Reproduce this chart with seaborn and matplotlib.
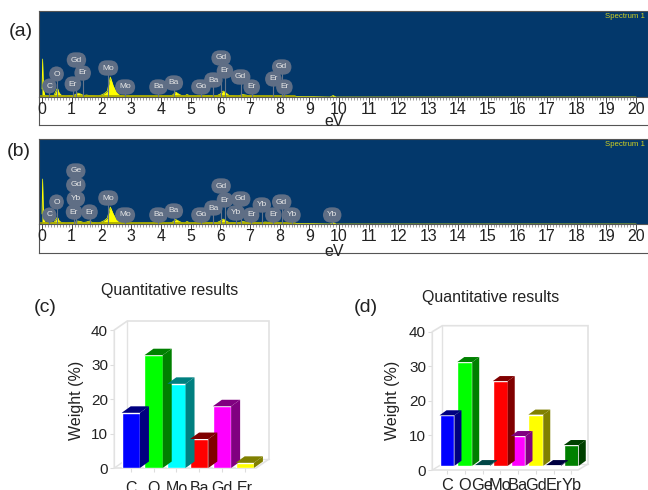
import numpy as np
import pandas as pd
import matplotlib
matplotlib.use('Agg')
import matplotlib.pyplot as plt
from matplotlib.patches import Polygon
import seaborn as sns

W, H = 648, 490

# spectrum (a)
energy_a = [0.0, 0.01, 0.02, 0.04, 0.06, 0.1, 0.2, 0.4, 0.47, 0.52, 0.58, 0.66, 0.8, 1.0, 1.1, 1.2, 1.3, 1.4, 1.5, 1.6, 1.9,
            2.0, 2.1, 2.2, 2.3, 2.4, 2.5, 2.6, 2.75, 3.0, 4.3, 4.4, 4.5, 4.6, 4.7, 4.8, 4.88, 5.0, 5.9, 6.0, 6.1, 6.2, 6.3,
            6.6, 6.75, 6.95, 7.1, 7.2, 8.0, 9.7, 9.8, 9.9, 20.0]
counts_a = [8, 20, 38, 16, 6, 1.5, 1, 1.5, 6, 9, 4, 1.5, 1, 1.5, 2, 4, 3, 1.5, 2, 1.5, 1,
            2, 3.5, 6, 20, 11, 5, 2, 1, 1, 1, 2, 5, 3, 1.5, 1, 2.5, 1, 1.5, 3, 6, 4, 1.5,
            1, 2.5, 1.5, 1.5, 1, 1, 0, 1.5, 0, 0]
names_a = ['C', 'O', 'Gd', 'Er', 'Er', 'Mo', 'Mo', 'Ba', 'Ba', 'Gd', 'Ba', 'Gd', 'Er', 'Gd', 'Er', 'Er', 'Gd', 'Er']
lines_a = [0.25, 0.49, 1.16, 1.37, 1.04, 2.23, 2.8, 3.92, 4.44, 5.35, 5.77, 6.03, 6.16, 6.69, 7.06, 7.79, 8.07, 8.16]
tops_a = [11, 23, 37, 24, 13, 29, 10, 10, 14, 10, 17, 39, 26, 20, 10, 18, 30, 10]

# spectrum (b)
energy_b = [0.0, 0.01, 0.02, 0.04, 0.06, 0.1, 0.2, 0.4, 0.47, 0.52, 0.58, 0.66, 0.8, 1.1, 1.2, 1.3, 1.4, 1.5, 1.6, 1.7, 1.9,
            2.0, 2.1, 2.2, 2.3, 2.4, 2.5, 2.6, 2.75, 3.0, 4.3, 4.4, 4.5, 4.6, 4.7, 4.8, 4.88, 5.0, 5.9, 6.0, 6.1, 6.2, 6.3,
            6.6, 6.75, 6.95, 7.4, 7.5, 8.0, 9.7, 9.8, 9.9, 20.0]
counts_b = [10, 25, 45, 18, 7, 2, 1, 1.5, 5, 7, 3, 1.5, 1, 1.5, 3, 2.5, 1.5, 2, 3, 1.5, 1,
            2, 3.5, 6, 17, 10, 4.5, 2, 1, 1, 1, 2, 4.5, 3, 1.5, 1, 2.5, 1, 1.5, 3, 5, 3, 1.5,
            1, 2.5, 1.5, 1, 2, 1, 0, 1.5, 0, 0]
names_b = ['C', 'O', 'Ge', 'Gd', 'Yb', 'Er', 'Er', 'Mo', 'Mo', 'Ba', 'Ba', 'Gd', 'Ba', 'Gd', 'Er', 'Yb', 'Gd', 'Er',
           'Yb', 'Er', 'Gd', 'Yb', 'Yb']
lines_b = [0.25, 0.49, 1.14, 1.14, 1.14, 1.08, 1.6, 2.23, 2.8, 3.92, 4.44, 5.35, 5.77, 6.03, 6.16, 6.53, 6.69, 7.04,
           7.4, 7.79, 8.07, 8.4, 9.77]
tops_b = [9, 22, 53, 39, 25, 12, 12, 26, 9, 9, 13, 9, 16, 38, 24, 11, 25, 9, 19, 9, 22, 9, 9]

# weight percent bars
elements_c = ['C', 'O', 'Mo', 'Ba', 'Gd', 'Er']
weight_c = [16, 32.7, 24.4, 8.4, 17.9, 1.5]
colors_c = ['#0000ff', '#00ff00', '#00ffff', '#ff0000', '#ff00ff', '#ffff00']

elements_d = ['C', 'O', 'Ge', 'Mo', 'Ba', 'Gd', 'Er', 'Yb']
weight_d = [14.6, 30, 0.2, 24.5, 8.6, 14.8, 0.2, 6]
colors_d = ['#0000ff', '#00ff00', '#008b8b', '#ff0000', '#ff00ff', '#ffff00', '#000080', '#008000']

sns.set_theme(style='white')
plt.rcParams['font.family'] = ['Liberation Sans', 'DejaVu Sans']
plt.rcParams['text.color'] = '#222222'


def box(x0, x1, ytop, ybot):
    return [x0 / W, 1 - ybot / H, (x1 - x0) / W, (ybot - ytop) / H]


def label(fig, x, y, s, **kw):
    fig.text(x / W, 1 - y / H, s, ha=kw.pop('ha', 'center'), va='center', **kw)


def spectrum(fig, ytop, ybase, ybot, energy, counts, names, lines, tops):
    strip = fig.add_axes(box(39, 648, ybase, ybot))
    strip.set_xticks([])
    strip.set_yticks([])
    strip.spines[['top', 'right']].set_visible(False)
    strip.spines[['left', 'bottom']].set_color('#555555')
    strip.spines[['left', 'bottom']].set_linewidth(0.8)

    ax = fig.add_axes(box(39, 648, ytop, ybase))
    ax.set_facecolor('#03386b')
    sns.lineplot(x=energy, y=counts, color='#ffff00', lw=0.5, ax=ax, errorbar=None, sort=False)
    ax.fill_between(energy, counts, color='#ffff00', lw=0)
    ax.axhline(0.6, xmin=0, xmax=0.42, color='#a8a800', lw=1.2)
    ax.set_xlim(-0.1, 20.4)
    ax.set_ylim(0, ybase - ytop)
    ax.set_yticks([])
    ax.set_xticks(range(21))
    ax.set_xticks(np.arange(0, 20.01, 0.1), minor=True)
    ax.tick_params(axis='x', which='major', bottom=True, length=4, width=0.7, color='#444444', labelsize=11.5,
                   pad=-0.5, labelcolor='#222222')
    ax.tick_params(axis='x', which='minor', bottom=True, length=2, width=0.5, color='#777777')
    for s in ax.spines.values():
        s.set_color('#555555')
        s.set_linewidth(0.8)

    for n, x, y in zip(names, lines, tops):
        ax.plot([x, x], [0.5, y], color='#66758a', lw=0.8, zorder=3)
        ax.text(x, y, n, ha='center', va='center', fontsize=6, color='#e6e6e6', zorder=4,
                bbox=dict(boxstyle='round,pad=0.5,rounding_size=1.0', fc='#5f6e85', ec='none'))
    ax.text(18.95, ybase - ytop - 6, 'Spectrum 1', color='#d0d020', fontsize=5.6, ha='left', va='center',
            clip_on=False)


def bars3d(fig, x0, x1, y0, y40, labels, values, colors, width, first, step, depth, lift, wall, size, xpad):
    ax = fig.add_axes(box(x0, x1, y40, y0))
    frame = pd.DataFrame({'element': labels, 'weight': values})
    sns.barplot(data=frame, x='element', y='weight', hue='element', palette=colors, legend=False,
                width=width, saturation=1, ax=ax, zorder=3)
    ax.set_xlim((x0 - first) / step, (x1 - first) / step)
    ax.set_ylim(0, 40)
    sx = step
    sy = (y0 - y40) / 40
    for s in ax.spines.values():
        s.set_visible(False)
    ax.patch.set_alpha(0)
    ax.set_xlabel('')
    ax.set_ylabel('')
    ax.set_yticks([0, 10, 20, 30, 40])
    ax.tick_params(axis='y', left=True, length=3, width=0.8, color='#dddddd', labelsize=11, pad=1.5,
                   labelcolor='#222222')
    ax.tick_params(axis='x', bottom=True, length=3, width=0.8, color='#dddddd', labelsize=size, pad=xpad,
                   labelcolor='#222222')

    # back wall and floor, offset in data units from the pixel depth
    wx, wy = wall[0] / sx, wall[1] / sy
    xl, xr = ax.get_xlim()
    grey = '#e2e2e2'
    outline = [(xl, 0), (xl, 40), (xl + wx, 40 + wy), (xr + wx, 40 + wy), (xr + wx, wy), (xr, 0), (xl, 0)]
    ax.add_patch(Polygon(outline, closed=True, fill=False, ec=grey, lw=1.2, clip_on=False, zorder=1))
    ax.plot([xl + wx, xl + wx, xr + wx], [40 + wy, wy, wy], color=grey, lw=1, clip_on=False, zorder=1)
    ax.plot([xl, xl + wx], [0, wy], color=grey, lw=1, clip_on=False, zorder=1)

    # bars get a side and a top in a darker shade
    dx, dy = depth / sx, depth * 0.72 / sy
    up = lift / sy
    for p, c in zip(ax.patches, colors):
        left, right = p.get_x(), p.get_x() + p.get_width()
        h = p.get_height()
        p.set_y(up)
        dark = tuple(v * 0.5 for v in matplotlib.colors.to_rgb(c))
        ax.add_patch(Polygon([(right, up), (right, up + h), (right + dx, up + h + dy), (right + dx, up + dy)],
                             closed=True, fc=dark, ec='none', clip_on=False, zorder=3))
        ax.add_patch(Polygon([(left, up + h), (right, up + h), (right + dx, up + h + dy), (left + dx, up + h + dy)],
                             closed=True, fc=dark, ec='none', clip_on=False, zorder=3))
    return ax


fig = plt.figure(figsize=(W / 100, H / 100), dpi=100)

spectrum(fig, 11, 97, 125, energy_a, counts_a, names_a, lines_a, tops_a)
spectrum(fig, 139, 224, 253, energy_b, counts_b, names_b, lines_b, tops_b)
label(fig, 334, 121, 'eV', fontsize=11.5)
label(fig, 334, 252, 'eV', fontsize=11.5)

bars3d(fig, 114.3, 256, 468, 330, elements_c, weight_c, colors_c, 0.8, 130.8, 22.8, 9, 0, (13, 9), 11.5, 6.5)
bars3d(fig, 432.3, 578, 470, 331.7, elements_d, weight_d, colors_d, 0.84, 447, 17.76, 7, 4.2, (10, 6), 11.8, 3)

label(fig, 21, 31, '(a)', fontsize=14)
label(fig, 19, 151, '(b)', fontsize=14)
label(fig, 45, 308, '(c)', fontsize=14)
label(fig, 366, 308, '(d)', fontsize=14)
label(fig, 170, 291, 'Quantitative results', fontsize=11.5)
label(fig, 491, 297, 'Quantitative results', fontsize=11.5)
label(fig, 77, 400, 'Weight (%)', fontsize=11.5, rotation=90)
label(fig, 393, 400, 'Weight (%)', fontsize=11.5, rotation=90)

fig.savefig('out.png', dpi=100)
